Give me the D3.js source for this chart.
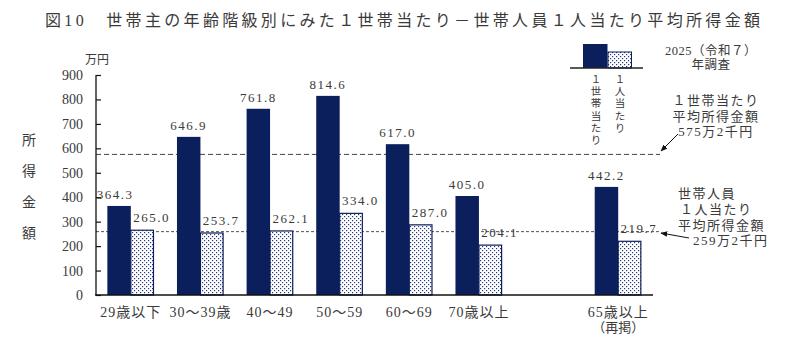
<!DOCTYPE html>
<html><head><meta charset="utf-8">
<script src="https://cdn.jsdelivr.net/npm/d3@7"></script>
<style>
body{margin:0;background:#fff;}
text{font-family:"Liberation Serif","Noto Sans CJK JP",serif;fill:#3a3a3a;}
</style></head>
<body><svg id="c" width="800" height="353"></svg>
<script>
const categories = ["29歳以下","30～39歳","40～49","50～59","60～69","70歳以上","_gap","65歳以上"];
const categorySub = {"65歳以上":"（再掲）"};
const perHousehold = [364.3, 646.9, 761.8, 814.6, 617.0, 405.0, null, 442.2];
const perPerson   = [265.0, 253.7, 262.1, 334.0, 287.0, 204.1, null, 219.7];
const yTicks = [0,100,200,300,400,500,600,700,800,900];
const avgHousehold = 575.2;
const avgPerson = 259.2;

const svg = d3.select("#c");
const navy = "#0b1f5c";
const defs = svg.append("defs");
const pat = defs.append("pattern").attr("id","dots").attr("patternUnits","userSpaceOnUse")
  .attr("width",4).attr("height",4);
pat.append("rect").attr("width",4).attr("height",4).attr("fill","#fff");
pat.append("rect").attr("x",0).attr("y",0).attr("width",1.2).attr("height",1.2).attr("fill","#2a3a78");
pat.append("rect").attr("x",2).attr("y",2).attr("width",1.2).attr("height",1.2).attr("fill","#2a3a78");
defs.append("marker").attr("id","arr").attr("viewBox","0 0 10 10").attr("refX",9).attr("refY",5)
  .attr("markerWidth",7).attr("markerHeight",7).attr("orient","auto")
  .append("path").attr("d","M0,1 L10,5 L0,9 Z").attr("fill","#111");

const y = d3.scaleLinear().domain([0,900]).range([295,75]);
const x0 = d3.scaleBand().domain(categories).range([96,653]).paddingInner(0.326).paddingOuter(0.163);
const x1 = d3.scaleBand().domain(["h","p"]).range([0,x0.bandwidth()]);

// title
svg.append("text").attr("x",45).attr("y",26).attr("font-size",16)
  .attr("textLength",715).attr("lengthAdjust","spacing")
  .text("図10　世帯主の年齢階級別にみた１世帯当たり－世帯人員１人当たり平均所得金額");

// reference lines
svg.append("line").attr("x1",96).attr("x2",660).attr("y1",y(avgHousehold)).attr("y2",y(avgHousehold))
  .attr("stroke","#444").attr("stroke-dasharray","5,3");
svg.append("line").attr("x1",96).attr("x2",660).attr("y1",y(avgPerson)).attr("y2",y(avgPerson))
  .attr("stroke","#555").attr("stroke-dasharray","3,2");

// bars
categories.forEach((c,i)=>{
  if (perHousehold[i]==null) return;
  const bx = x0(c);
  svg.append("rect").attr("x",bx+x1("h")).attr("width",x1.bandwidth())
    .attr("y",y(perHousehold[i])).attr("height",y(0)-y(perHousehold[i])).attr("fill",navy);
  svg.append("rect").attr("x",bx+x1("p")).attr("width",x1.bandwidth()-0.8)
    .attr("y",y(perPerson[i])).attr("height",y(0)-y(perPerson[i])).attr("fill","url(#dots)")
    .attr("stroke",navy).attr("stroke-width",1.2);
  svg.append("text").attr("x",bx+x1("h")+x1.bandwidth()/2 - (i===0?4:0)).attr("y",y(perHousehold[i])-7)
    .attr("text-anchor","middle").attr("font-size",13).attr("letter-spacing",1.5)
    .text(perHousehold[i].toFixed(1));
  svg.append("text").attr("x",bx+x1("p")+x1.bandwidth()/2+9).attr("y",y(perPerson[i])-8)
    .attr("text-anchor","middle").attr("font-size",13).attr("letter-spacing",1.5)
    .text(perPerson[i].toFixed(1));
  svg.append("text").attr("x",bx+x0.bandwidth()/2).attr("y",317).attr("text-anchor","middle")
    .attr("font-size",14).attr("letter-spacing",1).text(c);
  if (categorySub[c]) svg.append("text").attr("x",bx+x0.bandwidth()/2).attr("y",332).attr("text-anchor","middle")
    .attr("font-size",13).text(categorySub[c]);
});

// axes
const yAxis = d3.axisRight(y).tickValues(yTicks).tickSize(5).tickFormat("");
const gy = svg.append("g").attr("transform","translate(96,0)").call(yAxis);
gy.select(".domain").attr("d","M0,75V295").attr("stroke","#111").attr("stroke-width",1.3);
gy.selectAll(".tick line").attr("stroke","#111").attr("stroke-width",1.2);
yTicks.forEach(t=>{
  svg.append("text").attr("x",83).attr("y",y(t)+5).attr("text-anchor","end").attr("font-size",14).text(t);
});
svg.append("line").attr("x1",95).attr("x2",653).attr("y1",295).attr("y2",295).attr("stroke","#111").attr("stroke-width",1.3);
svg.append("text").attr("x",97).attr("y",64).attr("text-anchor","middle").attr("font-size",12).text("万円");
["所","得","金","額"].forEach((ch,i)=>{
  svg.append("text").attr("x",29).attr("y",145+i*31).attr("text-anchor","middle").attr("font-size",14).text(ch);
});

// legend
const lg = svg.append("g");
lg.append("rect").attr("x",583).attr("y",44).attr("width",24.5).attr("height",24).attr("fill",navy);
lg.append("rect").attr("x",608).attr("y",52).attr("width",23.5).attr("height",16).attr("fill","url(#dots)")
  .attr("stroke",navy).attr("stroke-width",1);
lg.append("line").attr("x1",570).attr("x2",643).attr("y1",68).attr("y2",68).attr("stroke","#222").attr("stroke-width",1.3);
Array.from("１世帯当たり").forEach((ch,i)=>{
  lg.append("text").attr("x",596).attr("y",83+i*12.2).attr("text-anchor","middle").attr("font-size",10.5).text(ch);
});
Array.from("１人当たり").forEach((ch,i)=>{
  lg.append("text").attr("x",620).attr("y",83+i*12.2).attr("text-anchor","middle").attr("font-size",10.5).text(ch);
});
svg.append("text").attr("x",711).attr("y",55).attr("text-anchor","middle").attr("font-size",12.5).attr("letter-spacing",0.5).text("2025（令和７）");
svg.append("text").attr("x",711).attr("y",69).attr("text-anchor","middle").attr("font-size",12.5).attr("letter-spacing",0.5).text("年調査");

// annotations
[["１世帯当たり",105],["平均所得金額",121],["575万2千円",136]].forEach(([t,yy])=>{
  svg.append("text").attr("x",716).attr("y",yy).attr("text-anchor","middle").attr("font-size",13)
    .attr("letter-spacing",1.5).text(t);
});
svg.append("line").attr("x1",678).attr("y1",134).attr("x2",661).attr("y2",151).attr("stroke","#111").attr("marker-end","url(#arr)");
[["世帯人員",678,198],["１人当たり",680,214],["平均所得金額",678,230],["259万2千円",693,245]].forEach(([t,xx,yy])=>{
  svg.append("text").attr("x",xx).attr("y",yy).attr("font-size",13).attr("letter-spacing",1.5).text(t);
});
svg.append("line").attr("x1",689).attr("y1",238).attr("x2",661).attr("y2",233).attr("stroke","#111").attr("marker-end","url(#arr)");
</script></body></html>
